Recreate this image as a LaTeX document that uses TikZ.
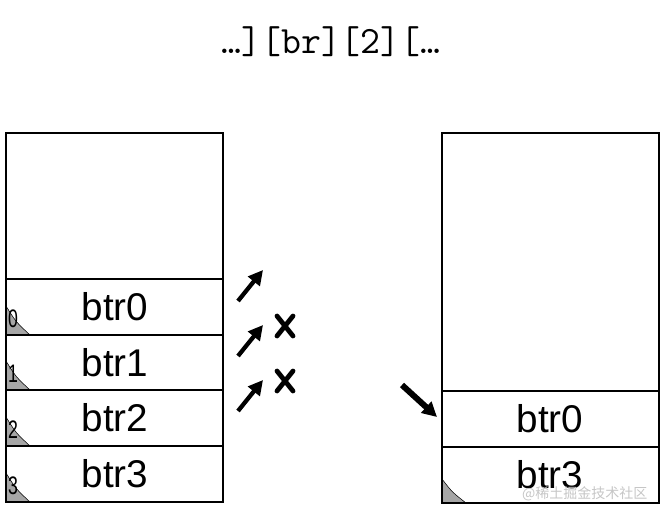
\documentclass[tikz,border=0pt]{standalone}
\usepackage{fontspec}
\setmainfont{Liberation Sans}
\newfontfamily\cjk{Noto Sans CJK SC}
\usetikzlibrary{arrows.meta}

\tikzset{
  cell/.style={draw,line width=1.5pt},
  word/.style={font=\fontsize{29}{29}\selectfont},
  idx/.style={font=\fontsize{19}{19}\selectfont,inner sep=0pt,xscale=0.7,transform shape},
  corner/.style={fill=gray!70},
  move/.style={line width=3.2pt,-{Triangle[length=11pt,width=11pt]}},
  nope/.style={line width=3.6pt,line cap=round}
}

\begin{document}
\begin{tikzpicture}[x=0.75pt,y=-0.75pt]
\useasboundingbox (0,0) rectangle (666,514);
% header
\node[font=\ttfamily\fontsize{29}{29}\selectfont] (hdr) at (331,42) {…][br][2][…};
% left stack
\draw[cell] (6,133) rectangle (223,279);
\foreach \top/\bot/\i in {279/335/0,335/390/1,390/446/2,446/502/3}{
  \filldraw[corner] (6,\bot) -- (6,\bot-29) .. controls (16,\bot-13) .. (30,\bot) -- cycle;
  \draw[cell] (6,\top) rectangle (223,\bot);
  \node[idx] (n\i) at (13,\bot-16) {\i};
  \node[word] (l\i) at (115,{(\top+\bot)/2}) {btr\i};
}
% right stack
\draw[cell] (442,133) rectangle (659,391);
\draw[cell] (442,391) rectangle (659,447);
\filldraw[corner] (442,503) -- (442,479) .. controls (452,492) .. (466,503) -- cycle;
\draw[cell] (442,447) rectangle (659,503);
\node[word] (r0) at (550,419) {btr0};
\node[word] (r3) at (550,475) {btr3};
% moves
\foreach \y in {301,356,411}
  \draw[move] (238,\y) -- (263,\y-31);
\foreach \y in {326,381}{
  \draw[nope] (277,\y-10) -- (293,\y+10);
  \draw[nope] (293,\y-10) -- (277,\y+10);
}
\draw[move,line width=4.5pt] (402,385) -- (437,417);
% watermark
\node[font=\cjk\fontsize{10.5}{10.5}\selectfont,text=gray!45,anchor=east] (wm) at (652,494) {@稀土掘金技术社区};
\end{tikzpicture}
\end{document}
